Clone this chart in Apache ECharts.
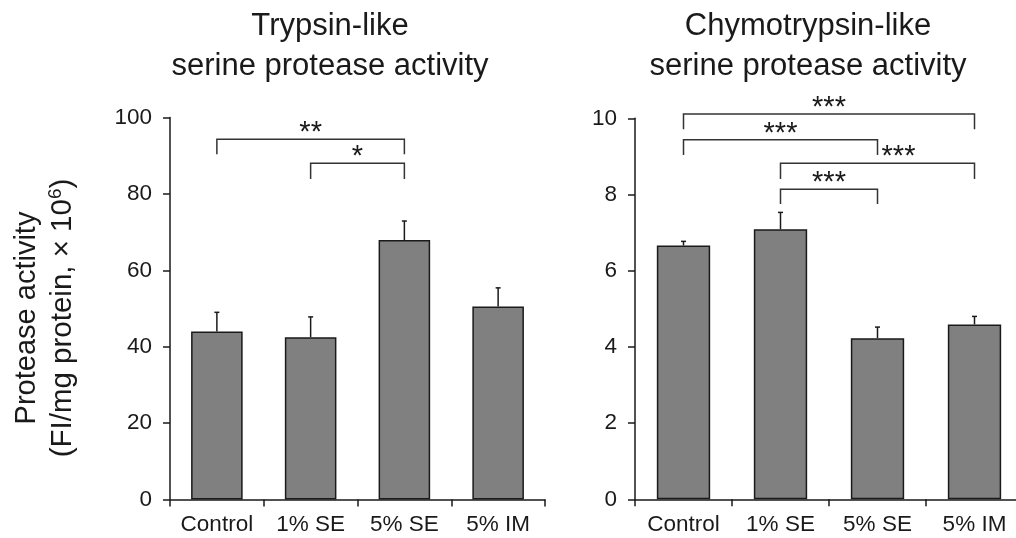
<!DOCTYPE html>
<html><head><meta charset="utf-8">
<script src="https://cdn.jsdelivr.net/npm/echarts@6/dist/echarts.min.js"></script>
<style>html,body{margin:0;padding:0;background:#fff}#c{width:1016px;height:538px}</style>
</head><body><div id="c"></div>
<script>
// ---- data ----
const categories = ['Control', '1% SE', '5% SE', '5% IM'];
const trypsinMean = [44.0, 42.5, 67.9, 50.5];
const trypsinErr = [5.0, 5.3, 5.0, 4.9];
const chymoMean = [6.66, 7.09, 4.23, 4.59];
const chymoErr = [0.11, 0.44, 0.29, 0.21];
const trypsinTicks = [0, 20, 40, 60, 80, 100];
const chymoTicks = [0, 2, 4, 6, 8, 10];
// significance brackets: [fromCategory, toCategory, bracket level, leg end level, label]
const trypsinBrackets = [[0, 2, 94.3, 90.4, '**'], [1, 2, 88.0, 83.9, '*']];
const chymoBrackets = [[0, 3, 10.11, 9.71, '***'], [0, 2, 9.44, 9.04, '***'], [1, 3, 8.82, 8.41, '***'], [1, 2, 8.14, 7.75, '***']];
const titles = ['Trypsin-like\nserine protease activity', 'Chymotrypsin-like\nserine protease activity'];

// ---- styling ----
const FONT = '"Liberation Sans", Arial, Helvetica, sans-serif';
const INK = '#1a1a1a';
const chymoLabelShift = [0, 0, 21, 0];

const chart = echarts.init(document.getElementById('c'), null, {renderer: 'canvas'});

function errRender(params, api) {
  const x = api.value(0), m = api.value(1), e = api.value(2);
  const p0 = api.coord([x, m]);
  const p1 = api.coord([x, m + e]);
  const cap = 2.5;
  return {type: 'group', children: [
    {type: 'line', shape: {x1: p0[0], y1: p0[1], x2: p1[0], y2: p1[1]}, style: {stroke: INK, lineWidth: 1.5}},
    {type: 'line', shape: {x1: p1[0] - cap, y1: p1[1], x2: p1[0] + cap, y2: p1[1]}, style: {stroke: INK, lineWidth: 1.5}}
  ]};
}
function makeBracketRender(shifts) {
  return function (params, api) {
    const a = api.value(0), b = api.value(1), top = api.value(2), leg = api.value(3);
    const label = api.value(4);
    const pa = api.coord([a, top]), pb = api.coord([b, top]);
    const la = api.coord([a, leg]), lb = api.coord([b, leg]);
    const dx = shifts ? shifts[params.dataIndex] : 0;
    return {type: 'group', children: [
      {type: 'polyline', shape: {points: [[la[0], la[1]], [pa[0], pa[1]], [pb[0], pb[1]], [lb[0], lb[1]]]},
        style: {stroke: '#333', lineWidth: 1.5, fill: null}},
      {type: 'text', x: (pa[0] + pb[0]) / 2 + dx, y: pa[1] - 6,
        style: {text: label, font: '29px ' + FONT, fill: INK, align: 'center', verticalAlign: 'middle'}}
    ]};
  };
}
function xAxisCfg(gi) {
  return {
    type: 'category', gridIndex: gi, data: categories, boundaryGap: true,
    axisLine: {show: true, lineStyle: {color: INK, width: 1.5}},
    axisTick: {show: true, alignWithLabel: false, length: 7, lineStyle: {color: INK, width: 1.5}},
    axisLabel: {interval: 0, fontSize: 22.5, fontFamily: FONT, color: INK, margin: 14},
    splitLine: {show: false}
  };
}
function yAxisCfg(gi, ticks) {
  return {
    type: 'value', gridIndex: gi, min: ticks[0], max: ticks[ticks.length - 1], interval: ticks[1] - ticks[0],
    axisLine: {show: true, lineStyle: {color: INK, width: 1.5}},
    axisTick: {show: true, length: 7, lineStyle: {color: INK, width: 1.5}},
    axisLabel: {fontSize: 22.5, fontFamily: FONT, color: INK, margin: 18},
    splitLine: {show: false}
  };
}
const barStyle = {color: '#808080', borderColor: INK, borderWidth: 1.5};

const option = {
  animation: false,
  backgroundColor: '#fff',
  grid: [
    {left: 170, top: 117.5, width: 375, height: 382, containLabel: false, outerBoundsMode: 'none'},
    {left: 635, top: 118.3, width: 388, height: 381, containLabel: false, outerBoundsMode: 'none'}
  ],
  xAxis: [xAxisCfg(0), xAxisCfg(1)],
  yAxis: [yAxisCfg(0, trypsinTicks), yAxisCfg(1, chymoTicks)],
  graphic: [
    {type: 'text', x: 330, y: 6, style: {text: titles[0], font: '31px ' + FONT, fill: INK, align: 'center', verticalAlign: 'top', lineHeight: 40}},
    {type: 'text', x: 808, y: 6, style: {text: titles[1], font: '31px ' + FONT, fill: INK, align: 'center', verticalAlign: 'top', lineHeight: 40}},
    {type: 'text', x: 27, y: 318, rotation: Math.PI / 2,
      style: {text: 'Protease activity', font: '29px ' + FONT, fill: INK, align: 'center', verticalAlign: 'middle'}},
    {type: 'text', x: 63, y: 318, rotation: Math.PI / 2,
      style: {text: '{a|(FI/mg protein, \u00d7 10}{s|6}{a|)}', fill: INK, align: 'center', verticalAlign: 'middle',
        rich: {a: {font: '29.5px ' + FONT, fill: INK, lineHeight: 34}, s: {font: '19px ' + FONT, fill: INK, verticalAlign: 'top', lineHeight: 34}}}}
  ],
  series: [
    {type: 'bar', xAxisIndex: 0, yAxisIndex: 0, data: trypsinMean, barWidth: '55%', itemStyle: barStyle, z: 2},
    {type: 'custom', xAxisIndex: 0, yAxisIndex: 0, renderItem: errRender, z: 3,
      data: trypsinMean.map((m, i) => [i, m, trypsinErr[i]]), encode: {x: 0, y: 1}},
    {type: 'custom', xAxisIndex: 0, yAxisIndex: 0, renderItem: makeBracketRender(null), z: 4, clip: false,
      data: trypsinBrackets, encode: {x: 0, y: 2}},
    {type: 'bar', xAxisIndex: 1, yAxisIndex: 1, data: chymoMean, barWidth: '55%', itemStyle: barStyle, z: 2},
    {type: 'custom', xAxisIndex: 1, yAxisIndex: 1, renderItem: errRender, z: 3,
      data: chymoMean.map((m, i) => [i, m, chymoErr[i]]), encode: {x: 0, y: 1}},
    {type: 'custom', xAxisIndex: 1, yAxisIndex: 1, renderItem: makeBracketRender(chymoLabelShift), z: 4, clip: false,
      data: chymoBrackets, encode: {x: 0, y: 2}}
  ]
};
chart.setOption(option);
</script>
</body></html>
